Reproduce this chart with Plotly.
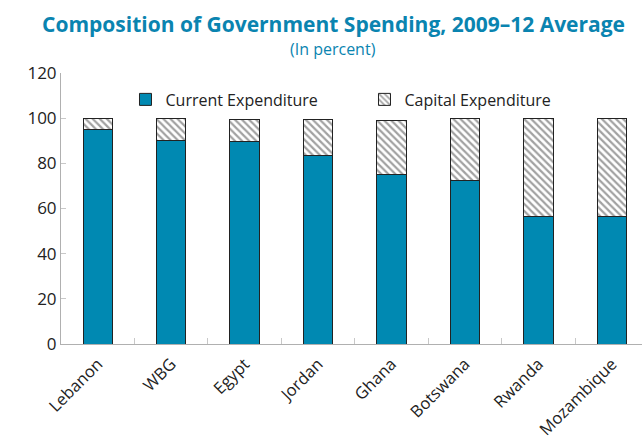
import plotly.graph_objects as go

countries = ["Lebanon", "WBG", "Egypt", "Jordan", "Ghana", "Botswana", "Rwanda", "Mozambique"]
current = [95.0, 90.0, 89.5, 83.5, 75.0, 72.5, 56.5, 56.5]
capital = [5.0, 10.0, 10.0, 16.0, 23.8, 27.5, 43.5, 43.5]
y_ticks = [0, 20, 40, 60, 80, 100, 120]

blue = "#0089B2"
title_blue = "#0A84B0"

fig = go.Figure()
fig.add_trace(go.Bar(
    x=countries, y=current, name="Current Expenditure",
    marker=dict(color=blue, line=dict(color="#222222", width=1)),
    width=0.4,
))
fig.add_trace(go.Bar(
    x=countries, y=capital, name="Capital Expenditure",
    marker=dict(color="white", line=dict(color="#222222", width=1),
                pattern=dict(shape="\\", fgcolor="#444444", bgcolor="white",
                             size=5, solidity=0.45)),
    width=0.4,
))

L, T, B = 61, 73, 98
plot_h = 442 - T - B
plot_w = 642 - L


def px_to_paper(xp, yp):
    return (xp - L) / plot_w, (442 - B - yp) / plot_h


tx, ty = px_to_paper(333, 24)
sx, sy = px_to_paper(333, 49)

fig.update_layout(
    barmode="stack",
    width=642, height=442,
    margin=dict(l=L, r=0, t=T, b=B, autoexpand=False),
    paper_bgcolor="white", plot_bgcolor="white",
    font=dict(family="Open Sans, Noto Sans, sans-serif", size=16, color="#222222"),
    showlegend=True,
    legend=dict(orientation="h", traceorder="normal",
                x=0.111, xanchor="left", y=0.965, yanchor="top",
                entrywidth=194, entrywidthmode="pixels",
                font=dict(size=16, color="#222222"), bgcolor="rgba(0,0,0,0)"),
    annotations=[
        dict(text="<b>Composition of Government Spending, 2009\u201312 Average</b>",
             x=tx, xref="paper", y=ty, yref="paper", showarrow=False,
             xanchor="center", yanchor="middle",
             font=dict(size=21, color=title_blue)),
        dict(text="(In percent)", x=sx, xref="paper", y=sy, yref="paper",
             showarrow=False, xanchor="center", yanchor="middle",
             font=dict(size=16, color=title_blue)),
    ],
)

fig.update_xaxes(
    range=[-0.5, 7.41], showline=True, linecolor="#B0B0B0", linewidth=1,
    ticks="inside", tickson="boundaries", ticklen=6, tickcolor="#C8C8C8",
    tickangle=-45, showgrid=False, zeroline=False, automargin=False,
    ticklabelstandoff=3,
    tickfont=dict(size=16.5),
)
fig.update_yaxes(
    range=[0, 120], tickvals=y_ticks, showline=True, linecolor="#B0B0B0", linewidth=1,
    ticks="inside", ticklen=5, tickcolor="#C8C8C8", showgrid=False, zeroline=False,
    automargin=False,
    tickfont=dict(size=17),
)

fig.write_html("out.html")
